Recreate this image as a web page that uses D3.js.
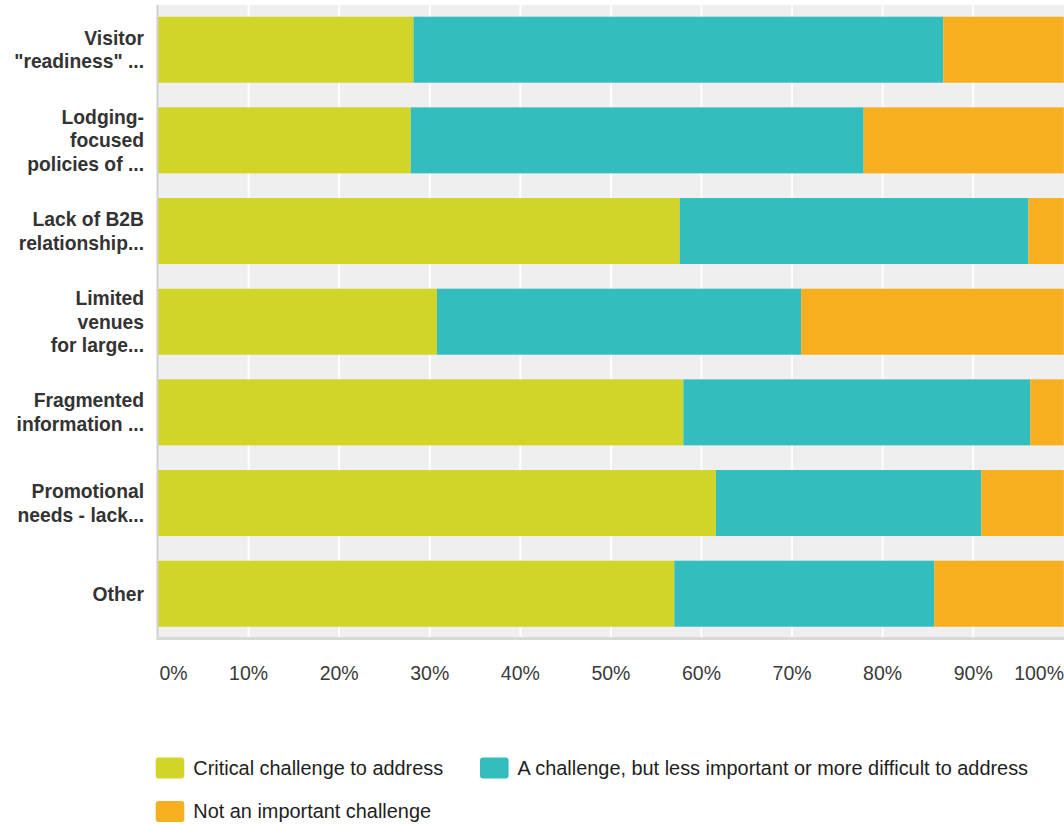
<!DOCTYPE html>
<html>
<head>
<meta charset="utf-8">
<script src="https://cdn.jsdelivr.net/npm/d3@7"></script>
<style>
  html, body { margin: 0; padding: 0; background: #fff; }
  svg { display: block; font-family: "Liberation Sans", Arial, Helvetica, sans-serif; }
</style>
</head>
<body>
<svg id="chart" width="1064" height="824"></svg>
<script>
// Survey question categories (label lines split with \n)
const categories = [
  "Visitor\n\"readiness\" ...",
  "Lodging-\nfocused\npolicies of ...",
  "Lack of B2B\nrelationship...",
  "Limited\nvenues\nfor large...",
  "Fragmented\ninformation ...",
  "Promotional\nneeds - lack...",
  "Other"
];

// Share of respondents per answer, in percent
const critical      = [28.2, 27.9, 57.6, 30.8, 58.0, 61.6, 57.0];
const lessImportant = [58.5, 50.0, 38.5, 40.2, 38.3, 29.3, 28.7];
const notImportant  = [13.3, 22.1, 3.9, 29.0, 3.7, 9.1, 14.3];

const seriesNames = [
  "Critical challenge to address",
  "A challenge, but less important or more difficult to address",
  "Not an important challenge"
];
const seriesColors = ["#d1d528", "#34bdbf", "#f7af1f"];

const tickValues = [0, 10, 20, 30, 40, 50, 60, 70, 80, 90, 100];
const tickLabels = ["0%", "10%", "20%", "30%", "40%", "50%", "60%", "70%", "80%", "90%", "100%"];

const svg = d3.select("#chart");

const plot = { left: 158, right: 1063.8, top: 5, bottom: 638.4 };

const x = d3.scaleLinear().domain([0, 100]).range([plot.left, plot.right]);
const y = d3.scaleBand()
  .domain(categories)
  .range([plot.top, plot.bottom])
  .paddingInner(0.272)
  .paddingOuter(0.129);

// Plot background
svg.append("rect")
  .attr("x", plot.left)
  .attr("y", plot.top)
  .attr("width", 1064 - plot.left)
  .attr("height", 637 - plot.top)
  .attr("fill", "#efefef");

// Vertical gridlines (inner ticks only)
svg.append("g")
  .selectAll("line")
  .data(tickValues.slice(1, -1))
  .join("line")
  .attr("x1", d => x(d))
  .attr("x2", d => x(d))
  .attr("y1", plot.top)
  .attr("y2", 637)
  .attr("stroke", "#ffffff")
  .attr("stroke-width", 2);

// Stacked bars
const rows = categories.map((c, i) => ({
  category: c,
  s0: critical[i],
  s1: lessImportant[i],
  s2: notImportant[i]
}));
const stack = d3.stack().keys(["s0", "s1", "s2"]);
const layers = stack(rows);

svg.append("g")
  .selectAll("g")
  .data(layers)
  .join("g")
  .attr("fill", (d, i) => seriesColors[i])
  .selectAll("rect")
  .data(d => d)
  .join("rect")
  .attr("x", d => x(d[0]))
  .attr("y", d => y(d.data.category))
  .attr("width", d => x(d[1]) - x(d[0]))
  .attr("height", y.bandwidth());

// Axis lines
svg.append("line")
  .attr("x1", plot.left - 0.5).attr("x2", plot.left - 0.5)
  .attr("y1", plot.top).attr("y2", 640)
  .attr("stroke", "#cfcfcf").attr("stroke-width", 2);
svg.append("line")
  .attr("x1", plot.left - 1.5).attr("x2", 1064)
  .attr("y1", 638.5).attr("y2", 638.5)
  .attr("stroke", "#d9d9d9").attr("stroke-width", 3);

// Category labels
const lineHeight = 23.4;
const catG = svg.append("g")
  .attr("font-size", 19.3)
  .attr("font-weight", "bold")
  .attr("fill", "#333333")
  .attr("text-anchor", "end");
categories.forEach(c => {
  const lines = c.split("\n");
  const cy = y(c) + y.bandwidth() / 2;
  const first = cy - (lines.length - 1) * lineHeight / 2 + 6.8;
  const t = catG.append("text");
  lines.forEach((ln, j) => {
    t.append("tspan").attr("x", 144).attr("y", first + j * lineHeight).text(ln);
  });
});

// X tick labels
svg.append("g")
  .attr("font-size", 19.5)
  .attr("fill", "#3a3a3a")
  .selectAll("text")
  .data(tickValues)
  .join("text")
  .attr("x", (d, i) => i === 0 ? x(d) + 1.5 : (i === tickValues.length - 1 ? 1064 : x(d)))
  .attr("y", 679.5)
  .attr("text-anchor", (d, i) => i === 0 ? "start" : (i === tickValues.length - 1 ? "end" : "middle"))
  .text((d, i) => tickLabels[i]);

// Legend
const legendItems = [
  { name: seriesNames[0], color: seriesColors[0], x: 155.7, y: 757.5 },
  { name: seriesNames[1], color: seriesColors[1], x: 480, y: 757.5 },
  { name: seriesNames[2], color: seriesColors[2], x: 155.7, y: 801 }
];
const lg = svg.append("g").selectAll("g").data(legendItems).join("g")
  .attr("transform", d => `translate(${d.x},${d.y})`);
lg.append("rect")
  .attr("width", 28.6).attr("height", 21)
  .attr("rx", 3).attr("ry", 3)
  .attr("fill", d => d.color);
lg.append("text")
  .attr("x", 37.6).attr("y", 17)
  .attr("font-size", 19.9)
  .attr("fill", "#1e1e1e")
  .text(d => d.name);
</script>
</body>
</html>
